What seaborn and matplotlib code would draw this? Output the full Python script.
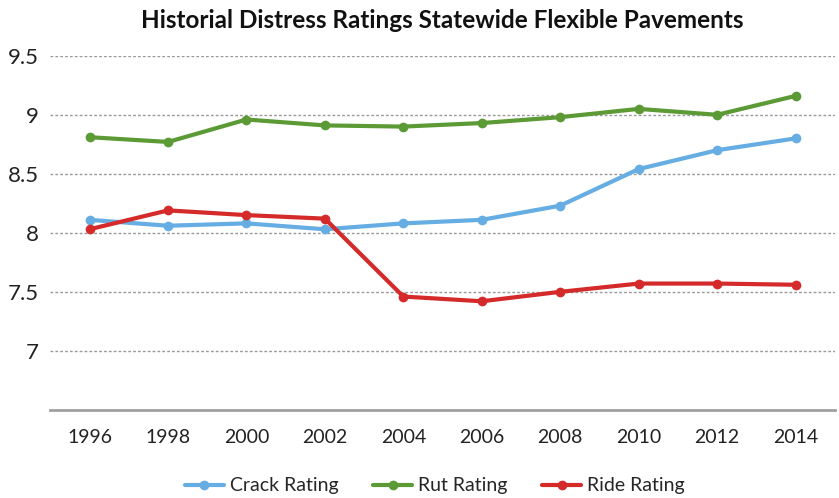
import matplotlib
matplotlib.use("Agg")
import matplotlib.pyplot as plt
import seaborn as sns
import numpy as np
import pandas as pd

years = [1996, 1998, 2000, 2002, 2004, 2006, 2008, 2010, 2012, 2014]
crack_rating = [8.11, 8.06, 8.08, 8.03, 8.08, 8.11, 8.23, 8.54, 8.70, 8.80]
rut_rating = [8.81, 8.77, 8.96, 8.91, 8.90, 8.93, 8.98, 9.05, 9.00, 9.16]
ride_rating = [8.03, 8.19, 8.15, 8.12, 7.46, 7.42, 7.50, 7.57, 7.57, 7.56]
series_names = ["Crack Rating", "Rut Rating", "Ride Rating"]
y_ticks = [7, 7.5, 8, 8.5, 9, 9.5]
y_tick_labels = ["7", "7.5", "8", "8.5", "9", "9.5"]

colors = {"Crack Rating": "#65ADE2", "Rut Rating": "#5B9A35", "Ride Rating": "#D42A2A"}

df = pd.DataFrame({
    "Year": years * 3,
    "Rating": crack_rating + rut_rating + ride_rating,
    "Series": np.repeat(series_names, len(years)),
})

sns.set_style("white")
plt.rcParams["font.family"] = ["Lato", "DejaVu Sans"]

fig = plt.figure(figsize=(8.39, 4.98), dpi=100)
ax = fig.add_axes([0.06, 0.177, 0.935, 0.711])

sns.lineplot(data=df, x="Year", y="Rating", hue="Series", palette=colors,
             marker="o", markersize=7, markeredgewidth=0, linewidth=3, ax=ax)

ax.set_xlim(1995, 2015)
ax.set_ylim(6.5, 9.5)
ax.set_xticks(years)
ax.set_xticklabels([str(y) for y in years], fontsize=14, color="#222222")
ax.set_yticks(y_ticks)
ax.set_yticklabels(y_tick_labels, fontsize=16, color="#222222")
ax.tick_params(length=0, pad=14)
ax.tick_params(axis="y", pad=8)
ax.set_xlabel("")
ax.set_ylabel("")

for y in y_ticks:
    ax.axhline(y, color="#999999", linestyle=(0, (2, 1.5)), linewidth=1, zorder=0)

for side in ["top", "right", "left"]:
    ax.spines[side].set_visible(False)
ax.spines["bottom"].set_color("#A0A0A0")
ax.spines["bottom"].set_linewidth(2)

ax.set_title("Historial Distress Ratings Statewide Flexible Pavements",
             fontsize=17.5, fontweight="bold", color="#111111", pad=20)

handles, labels = ax.get_legend_handles_labels()
ax.legend(handles, labels, loc="center", bbox_to_anchor=(0.49, -0.215),
          ncol=3, frameon=False, fontsize=14, handlelength=2.0,
          handletextpad=0.3, columnspacing=1.8)

fig.savefig("out.png", dpi=100)
plt.close(fig)
